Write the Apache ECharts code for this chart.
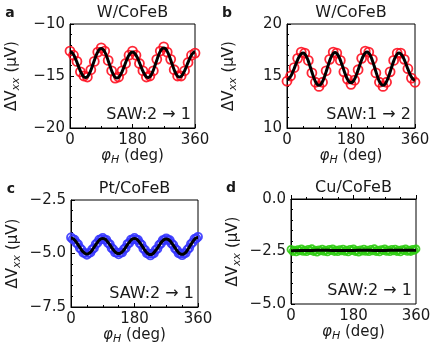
<!DOCTYPE html>
<html>
<head>
<meta charset="utf-8">
<title>SAW panels</title>
<script src="https://cdn.jsdelivr.net/npm/echarts@6/dist/echarts.min.js"></script>
<style>html,body{margin:0;padding:0;background:#fff}</style>
</head>
<body>
<div id="main" style="width:434px;height:349px;"></div>
<script>
// field angle (deg)
var angle10 = [0,10,20,30,40,50,60,70,80,90,100,110,120,130,140,150,160,170,180,
  190,200,210,220,230,240,250,260,270,280,290,300,310,320,330,340,350,360];
var angle5 = [0,5,10,15,20,25,30,35,40,45,50,55,60,65,70,75,80,85,90,95,100,105,110,115,
  120,125,130,135,140,145,150,155,160,165,170,175,180,185,190,195,200,205,210,215,220,225,
  230,235,240,245,250,255,260,265,270,275,280,285,290,295,300,305,310,315,320,325,330,335,
  340,345,350,355,360];
var angle30 = [0,30,60,90,120,150,180,210,240,270,300,330,360];

// a: W/CoFeB, SAW 2->1
var ptsA = [-12.6,-13.0,-13.6,-14.6,-15.0,-15.1,-14.4,-13.6,-12.7,-12.3,-12.6,-13.5,-14.5,-15.2,
  -15.1,-14.5,-13.8,-13.0,-12.6,-13.0,-13.8,-14.5,-15.1,-15.0,-14.5,-13.4,-12.6,-12.2,-12.7,
  -13.4,-14.4,-15.0,-15.0,-14.5,-13.7,-13.0,-12.8];
var fitA = [-12.65,-12.73,-12.94,-13.28,-13.68,-14.12,-14.53,-14.86,-15.08,-15.15,
  -15.07,-14.82,-14.45,-13.99,-13.51,-13.05,-12.68,-12.43,-12.35,
  -12.44,-12.68,-13.06,-13.53,-14.02,-14.49,-14.87,-15.12,-15.2,
  -15.13,-14.91,-14.58,-14.17,-13.73,-13.33,-12.99,-12.78,-12.7,
  -12.77,-12.99,-13.31,-13.71,-14.14,-14.54,-14.86,-15.08,-15.15,
  -15.06,-14.82,-14.44,-13.97,-13.48,-13.01,-12.63,-12.39,-12.3,
  -12.38,-12.63,-13.0,-13.46,-13.94,-14.4,-14.77,-15.02,-15.1,
  -15.03,-14.82,-14.5,-14.11,-13.69,-13.3,-12.98,-12.77,-12.7];

// b: W/CoFeB, SAW 1->2
var ptsB = [14.5,15.0,15.8,16.7,17.3,17.2,16.5,15.3,14.4,14.0,14.4,15.5,16.6,17.3,17.2,16.5,
  15.4,14.7,14.2,14.6,15.6,16.7,17.4,17.3,16.6,15.3,14.4,14.0,14.4,15.4,16.5,17.2,17.2,16.6,
  15.7,14.8,14.4];
var fitB = [14.65,14.73,14.95,15.29,15.70,16.15,16.56,16.90,17.12,17.2,
  17.11,16.84,16.43,15.92,15.38,14.88,14.46,14.19,14.1,
  14.19,14.47,14.89,15.40,15.95,16.46,16.88,17.16,17.25,
  17.16,16.91,16.53,16.05,15.55,15.08,14.69,14.44,14.35,
  14.44,14.70,15.09,15.57,16.08,16.56,16.95,17.21,17.3,
  17.2,16.93,16.5,15.98,15.42,14.9,14.47,14.2,14.1,
  14.19,14.46,14.88,15.38,15.92,16.43,16.84,17.11,17.2,
  17.12,16.9,16.55,16.13,15.67,15.25,14.9,14.68,14.6];

// c: Pt/CoFeB, SAW 2->1
var ptsC = [-4.25,-4.33,-4.35,-4.50,-4.57,-4.74,-4.82,-4.97,-4.98,-5.06,
  -4.98,-4.96,-4.81,-4.75,-4.57,-4.50,-4.35,-4.34,-4.27,
  -4.35,-4.36,-4.51,-4.57,-4.74,-4.81,-4.95,-4.96,-5.04,
  -4.96,-4.95,-4.80,-4.74,-4.56,-4.51,-4.35,-4.35,-4.27,
  -4.35,-4.37,-4.52,-4.59,-4.77,-4.84,-4.99,-5.01,-5.09,
  -5.01,-4.99,-4.83,-4.78,-4.60,-4.53,-4.38,-4.37,-4.29,
  -4.37,-4.38,-4.53,-4.60,-4.77,-4.84,-4.99,-5.00,-5.08,
  -5.00,-4.98,-4.82,-4.74,-4.56,-4.48,-4.32,-4.30,-4.22];
var fitC = [-4.28,-4.30,-4.37,-4.47,-4.59,-4.71,-4.84,-4.93,-5.0,-5.02,
  -5.0,-4.94,-4.84,-4.72,-4.60,-4.48,-4.38,-4.32,-4.3,
  -4.32,-4.38,-4.48,-4.59,-4.71,-4.83,-4.92,-4.98,-5.0,
  -4.98,-4.92,-4.83,-4.71,-4.59,-4.48,-4.38,-4.32,-4.3,
  -4.32,-4.39,-4.49,-4.61,-4.74,-4.86,-4.96,-5.03,-5.05,
  -5.03,-4.96,-4.86,-4.75,-4.62,-4.5,-4.41,-4.34,-4.32,
  -4.34,-4.40,-4.5,-4.62,-4.74,-4.86,-4.96,-5.02,-5.04,
  -5.02,-4.95,-4.84,-4.71,-4.58,-4.45,-4.34,-4.27,-4.25];

// d: Cu/CoFeB, SAW 2->1
var ptsD = [-2.40,-2.50,-2.44,-2.52,-2.41,-2.47,-2.38,-2.49,-2.43,-2.51,
  -2.40,-2.46,-2.37,-2.50,-2.44,-2.53,-2.42,-2.47,-2.39,
  -2.49,-2.44,-2.52,-2.40,-2.46,-2.38,-2.50,-2.43,-2.51,
  -2.41,-2.47,-2.39,-2.49,-2.44,-2.52,-2.40,-2.46,-2.38,
  -2.50,-2.45,-2.53,-2.42,-2.48,-2.39,-2.49,-2.43,-2.51,
  -2.40,-2.47,-2.37,-2.50,-2.44,-2.52,-2.41,-2.46,-2.38,
  -2.49,-2.43,-2.51,-2.40,-2.47,-2.39,-2.50,-2.44,-2.52,
  -2.41,-2.46,-2.38,-2.49,-2.43,-2.50,-2.40,-2.45,-2.38];
var fitD = [-2.46,-2.45,-2.45,-2.44,-2.45,-2.45,-2.45,-2.44,-2.45,-2.45,-2.44,-2.44,-2.44];

var titles = ['W/CoFeB', 'W/CoFeB', 'Pt/CoFeB', 'Cu/CoFeB'];
var letters = ['a', 'b', 'c', 'd'];
var sawText = ['SAW:2 \u2192 1', 'SAW:1 \u2192 2', 'SAW:2 \u2192 1', 'SAW:2 \u2192 1'];

function zip(xs, ys) {
    var out = [];
    for (var i = 0; i < xs.length; i++) out.push([xs[i], ys[i]]);
    return out;
}

var FONT = 'DejaVu Sans';
var INK = '#1a1a1a';

var panels = [
    {grid: {left: 70, top: 24, width: 125, height: 104}, ymin: -20, ymax: -10, step: 5, dec: 0,
     color: '#ff1020', pts: zip(angle10, ptsA), fit: zip(angle5, fitA), size: 9},
    {grid: {left: 287, top: 24, width: 128, height: 104}, ymin: 10, ymax: 20, step: 5, dec: 0,
     color: '#ff1020', pts: zip(angle10, ptsB), fit: zip(angle5, fitB), size: 9},
    {grid: {left: 71, top: 200, width: 127, height: 107}, ymin: -7.5, ymax: -2.5, step: 2.5, dec: 1,
     color: '#3535ff', pts: zip(angle5, ptsC), fit: zip(angle5, fitC), size: 8},
    {grid: {left: 291, top: 199, width: 125, height: 105}, ymin: -5, ymax: 0, step: 2.5, dec: 1,
     color: '#2ecc11', pts: zip(angle5, ptsD), fit: zip(angle30, fitD), size: 7}
];

var grids = [], xAxes = [], yAxes = [], series = [], graphics = [];

panels.forEach(function (p, i) {
    var g = p.grid;
    grids.push({left: g.left, top: g.top, width: g.width, height: g.height,
        show: true, borderColor: '#000', borderWidth: 1, backgroundColor: 'transparent'});
    xAxes.push({
        type: 'value', gridIndex: i, min: 0, max: 360, interval: 180,
        name: '{i|\u03c6}{s|H}{n| (deg)}', nameLocation: 'middle', nameGap: 19,
        nameTextStyle: {
            rich: {
                i: {fontFamily: FONT, fontSize: 15, fontStyle: 'italic', color: INK},
                s: {fontFamily: FONT, fontSize: 11, fontStyle: 'italic', color: INK, padding: [8, 0, 0, 0], verticalAlign: 'bottom'},
                n: {fontFamily: FONT, fontSize: 15, color: INK}
            }
        },
        axisLine: {show: true, lineStyle: {color: '#000', width: 1}},
        axisTick: {show: true, inside: true, length: 4, lineStyle: {color: '#000'}},
        minorTick: {show: true, splitNumber: 4, length: 2, lineStyle: {color: '#000'}},
        splitLine: {show: false},
        axisLabel: {fontFamily: FONT, fontSize: 15, color: INK, margin: 5}
    });
    yAxes.push({
        type: 'value', gridIndex: i, min: p.ymin, max: p.ymax, interval: p.step,
        name: '{n|\u0394V}{s|xx}{n| (\u00b5V)}', nameLocation: 'middle', nameGap: 48, nameRotate: 90,
        nameTextStyle: {
            rich: {
                s: {fontFamily: FONT, fontSize: 11, fontStyle: 'italic', color: INK, padding: [8, 0, 0, 0], verticalAlign: 'bottom'},
                n: {fontFamily: FONT, fontSize: 15, color: INK}
            }
        },
        axisLine: {show: true, lineStyle: {color: '#000', width: 1}},
        axisTick: {show: true, inside: true, length: 4, lineStyle: {color: '#000'}},
        minorTick: {show: true, splitNumber: 5, length: 2, lineStyle: {color: '#000'}},
        splitLine: {show: false},
        axisLabel: {
            fontFamily: FONT, fontSize: 15, color: INK, margin: 5,
            formatter: (function (dec) {
                return function (v) { return v.toFixed(dec).replace('-', '\u2212'); };
            })(p.dec)
        }
    });
    series.push({
        type: 'scatter', xAxisIndex: i, yAxisIndex: i, data: p.pts,
        symbol: 'circle', symbolSize: p.size, z: 2, clip: true,
        itemStyle: {color: 'rgba(255,255,255,0)', borderColor: p.color, borderWidth: 1.8, opacity: 0.9}
    });
    series.push({
        type: 'line', xAxisIndex: i, yAxisIndex: i, data: p.fit,
        smooth: true, showSymbol: false, z: 3, clip: true,
        lineStyle: {color: '#000', width: 3}
    });

    var cx = g.left + g.width / 2;
    graphics.push({type: 'text', x: cx, y: g.top - 11,
        style: {text: titles[i], fontFamily: FONT, fontSize: 16, fill: INK,
            textAlign: 'center', textVerticalAlign: 'middle'}});
    graphics.push({type: 'text', x: g.left - 60, y: g.top - 11,
        style: {text: letters[i], fontFamily: FONT, fontSize: 14, fontWeight: 'bold', fill: INK,
            textAlign: 'center', textVerticalAlign: 'middle'}});
    graphics.push({type: 'text', x: g.left + g.width - 4, y: g.top + g.height - 13,
        style: {text: sawText[i], fontFamily: FONT, fontSize: 16, fill: INK,
            textAlign: 'right', textVerticalAlign: 'middle'}});
});

var chart = echarts.init(document.getElementById('main'), null, {renderer: 'canvas'});
chart.setOption({
    animation: false,
    backgroundColor: '#fff',
    grid: grids,
    xAxis: xAxes,
    yAxis: yAxes,
    series: series,
    graphic: graphics
});
</script>
</body>
</html>
